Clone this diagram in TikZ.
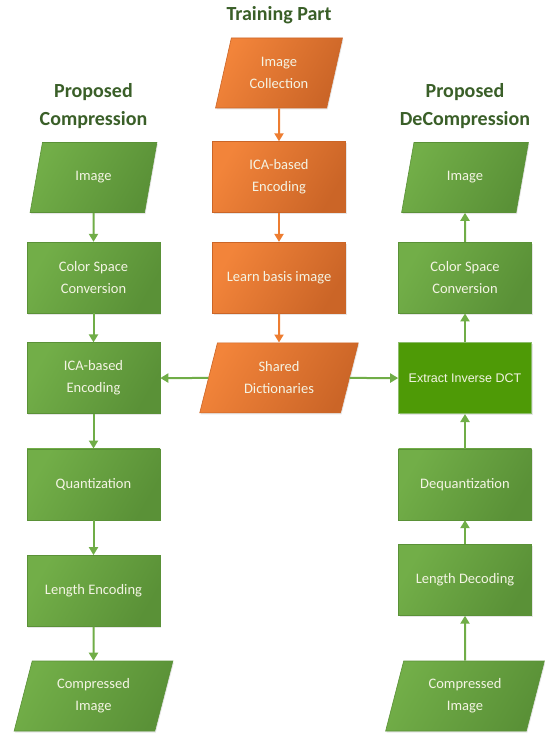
\documentclass[tikz,border=0pt]{standalone}
\usepackage{fontspec}
\setmainfont{Carlito}
\newfontfamily\arialfont{Liberation Sans}
\usetikzlibrary{arrows, shapes, positioning, shadows}

\definecolor{grnlight}{HTML}{72AE48}
\definecolor{grndark}{HTML}{5A9137}
\definecolor{grnline}{HTML}{70AD47}
\definecolor{orglight}{HTML}{F2843A}
\definecolor{orgdark}{HTML}{CB6527}
\definecolor{orgline}{HTML}{ED7D31}
\definecolor{dctgreen}{HTML}{4E9A06}
\definecolor{titlegreen}{HTML}{3A5F28}
\definecolor{boxtext}{HTML}{F4F4E4}

\tikzset{
	base/.style={text=boxtext, align=center, inner sep=3pt,
		font=\fontsize{14.5}{22}\selectfont,
		drop shadow={opacity=0.2, shadow xshift=1pt, shadow yshift=-1.5pt}},
	grnbox/.style={base, rectangle, draw=grndark, line width=0.6pt,
		left color=grnlight, right color=grndark, shading angle=60,
		minimum width=133pt, minimum height=71pt},
	orgbox/.style={grnbox, draw=orgdark, left color=orglight, right color=orgdark, shading angle=60},
	dctbox/.style={grnbox, draw=grnline!80!white, left color=dctgreen, right color=dctgreen,
		font=\arialfont\fontsize{12.5}{15}\selectfont},
	grnpara/.style={base, trapezium, trapezium left angle=74, trapezium right angle=106,
		trapezium stretches=true, draw=grndark, line width=0.6pt,
		left color=grnlight, right color=grndark, shading angle=60,
		minimum width=127pt, minimum height=70pt},
	orgpara/.style={grnpara, draw=orgdark, left color=orglight, right color=orgdark, shading angle=60},
	wide/.style={minimum width=159pt},
	title/.style={text=titlegreen, align=center, font=\bfseries\fontsize{20}{28}\selectfont},
	garrow/.style={draw=grnline, line width=2pt, -{Triangle[length=8pt,width=9pt]}},
	oarrow/.style={garrow, draw=orgline}
}
\usetikzlibrary{arrows.meta}

\begin{document}
\begin{tikzpicture}[x=1pt,y=-1pt,node distance=30pt]
	\useasboundingbox (0,0) rectangle (544,733);
	
	% training part
	\node[title] (ttrain) at (279,15) {Training Part};
	\node[orgpara] (coll) at (279,73) {Image\\Collection};
	\node[orgbox] (tica) [below=33pt of coll] {ICA-based\\Encoding};
	\node[orgbox] (learn) [below=29pt of tica] {Learn basis image};
	\node[orgpara, wide] (dict) [below=29pt of learn] {Shared\\Dictionaries};
	
	% compression
	\node[title] (tcomp) at (93.5,106) {Proposed\\Compression};
	\node[grnpara] (cimg) at (93.5,177.5) {Image};
	\node[grnbox] (ccsc) [below=29pt of cimg] {Color Space\\Conversion};
	\node[grnbox] (cica) [below=29pt of ccsc] {ICA-based\\Encoding};
	\node[grnbox] (cquant) [below=34.5pt of cica] {Quantization};
	\node[grnbox] (clen) [below=35pt of cquant] {Length Encoding};
	\node[grnpara, wide] (cout) [below=34pt of clen] {Compressed\\Image};
	
	% decompression
	\node[title] (tdec) at (465,106) {Proposed\\DeCompression};
	\node[grnpara] (dimg) at (465,177.5) {Image};
	\node[grnbox] (dcsc) [below=29pt of dimg] {Color Space\\Conversion};
	\node[dctbox] (didct) [below=29pt of dcsc] {Extract Inverse DCT};
	\node[grnbox] (ddeq) [below=34.5pt of didct] {Dequantization};
	\node[grnbox] (dlen) [below=24pt of ddeq] {Length Decoding};
	\node[grnpara, wide] (din) [below=45pt of dlen] {Compressed\\Image};
	
	\path (coll) edge[oarrow] (tica)
	(tica) edge[oarrow] (learn)
	(learn) edge[oarrow] (dict);
	
	\path (dict) edge[garrow] (cica)
	edge[garrow] (didct);
	
	\path (cimg) edge[garrow] (ccsc)
	(ccsc) edge[garrow] (cica)
	(cica) edge[garrow] (cquant)
	(cquant) edge[garrow] (clen)
	(clen) edge[garrow] (cout);
	
	\path (din) edge[garrow] (dlen)
	(dlen) edge[garrow] (ddeq)
	(ddeq) edge[garrow] (didct)
	(didct) edge[garrow] (dcsc)
	(dcsc) edge[garrow] (dimg);
	
\end{tikzpicture}
\end{document}
